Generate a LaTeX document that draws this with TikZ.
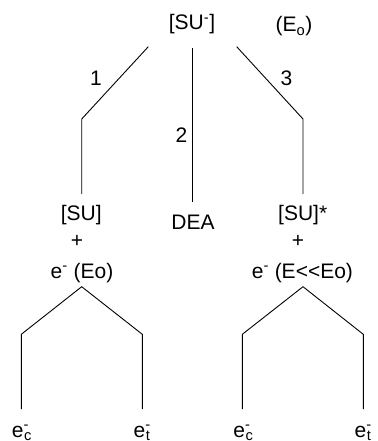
\documentclass[tikz,border=0pt]{standalone}
\usepackage{fontspec}
\setmainfont[Ligatures=NoCommon]{Liberation Sans}
\begin{document}
\begin{tikzpicture}[x=1pt,y=-1pt,
  lbl/.style={anchor=base,inner sep=0pt,font=\fontsize{21}{25}\selectfont},
  conn/.style={line width=0.9pt,line join=miter}]
\useasboundingbox (0,0) rectangle (377,441);
% texts
\node[lbl] (top) at (192,30) {[SU\textsuperscript{-}]};
\node[lbl] (eo) at (294,32) {(E\textsubscript{o})};
\node[lbl] (n1) at (96,85) {1};
\node[lbl] (n2) at (181.5,142) {2};
\node[lbl] (n3) at (286.5,85) {3};
\node[lbl] (su) at (81.3,220) {[SU]};
\node[lbl] (dea) at (193,229) {DEA};
\node[lbl] (sus) at (302.7,220) {[SU]*};
\node[lbl] (p1) at (77,247) {+};
\node[lbl] (p2) at (298,247) {+};
\node[lbl] (el) at (82,278) {e\textsuperscript{-} (Eo)};
\node[lbl] (er) at (302.4,278) {e\textsuperscript{-} (E{<}{<}Eo)};
\node[lbl] (lc) at (22,437) {e\textsuperscript{\rlap{-}}\textsubscript{c}};
\node[lbl] (lt) at (142,437) {e\textsuperscript{\rlap{-}}\textsubscript{t}};
\node[lbl] (rc) at (243.5,437) {e\textsuperscript{\rlap{-}}\textsubscript{c}};
\node[lbl] (rt) at (363,437) {e\textsuperscript{\rlap{-}}\textsubscript{t}};
% connector points
\coordinate (a1) at (148.3,46.7);
\coordinate (b1) at (81.7,119);
\coordinate (c1) at (81.7,194);
\coordinate (a2) at (192.7,47.7);
\coordinate (c2) at (192.7,202.3);
\coordinate (a3) at (236.7,46.7);
\coordinate (b3) at (303,119);
\coordinate (c3) at (303,194);
\coordinate (tl) at (81.7,286.7);
\coordinate (tll) at (21.3,334.3);
\coordinate (tlle) at (21.3,409);
\coordinate (tlr) at (142.3,334.3);
\coordinate (tlre) at (142.3,409);
\coordinate (tr) at (303,286.7);
\coordinate (trl) at (242.3,334.3);
\coordinate (trle) at (242.3,409);
\coordinate (trr) at (363.3,334.3);
\coordinate (trre) at (363.3,409);
% connectors
\draw[conn] (a1) -- (b1) -- (c1);
\draw[conn] (a2) -- (c2);
\draw[conn] (a3) -- (b3) -- (c3);
\draw[conn] (tlle) -- (tll) -- (tl) -- (tlr) -- (tlre);
\draw[conn] (trle) -- (trl) -- (tr) -- (trr) -- (trre);
\end{tikzpicture}
\end{document}
